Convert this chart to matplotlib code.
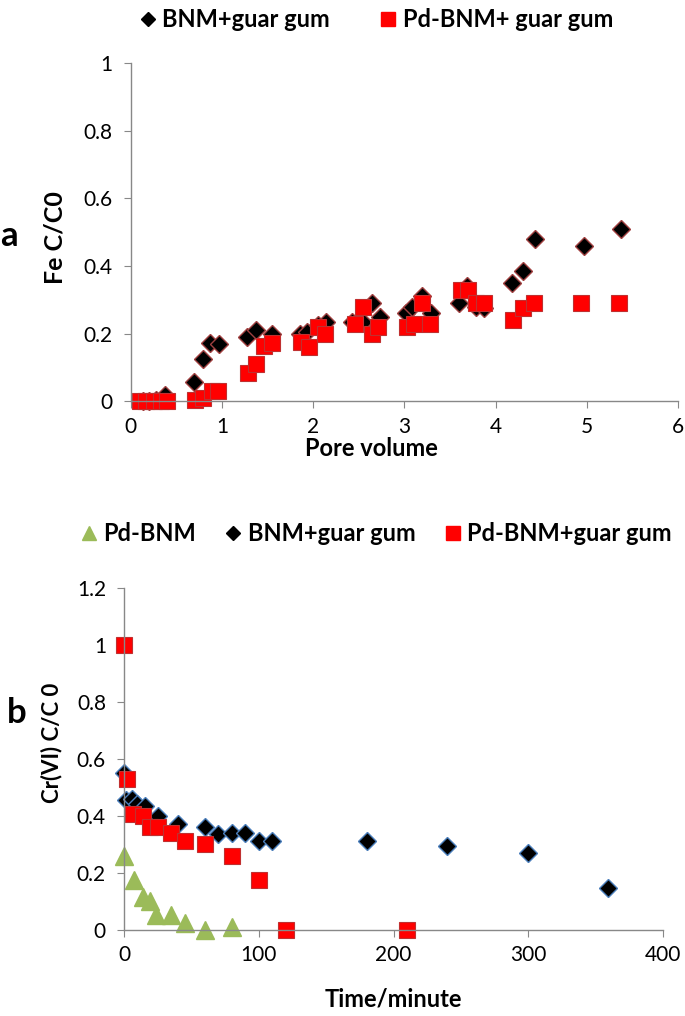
import matplotlib.pyplot as plt
from matplotlib.lines import Line2D

plt.rcParams['font.family'] = ['Lato', 'DejaVu Sans']

# Panel a: Fe breakthrough vs pore volume
pv_bnm = [0.13, 0.2, 0.28, 0.37, 0.69, 0.79, 0.87, 0.97, 1.27, 1.37, 1.55,
          1.85, 1.93, 2.05, 2.14, 2.42, 2.54, 2.64, 2.73, 3.02, 3.08, 3.19,
          3.29, 3.6, 3.68, 3.78, 3.87, 4.18, 4.3, 4.43, 4.97, 5.37]
fe_bnm = [0.0, 0.0, 0.005, 0.02, 0.056, 0.124, 0.172, 0.17, 0.19, 0.21, 0.2,
          0.2, 0.205, 0.225, 0.235, 0.235, 0.235, 0.29, 0.25, 0.26, 0.28, 0.31,
          0.26, 0.29, 0.34, 0.28, 0.275, 0.35, 0.385, 0.48, 0.46, 0.51]
pv_pd = [0.1, 0.17, 0.25, 0.33, 0.4, 0.7, 0.79, 0.89, 0.96, 1.28, 1.37, 1.46,
         1.55, 1.86, 1.95, 2.05, 2.13, 2.46, 2.54, 2.64, 2.71, 3.03, 3.1, 3.19,
         3.28, 3.62, 3.7, 3.78, 3.87, 4.19, 4.3, 4.42, 4.94, 5.35]
fe_pd = [0.0, 0.0, 0.0, 0.0, 0.0, 0.003, 0.01, 0.03, 0.03, 0.083, 0.11, 0.163,
         0.172, 0.175, 0.16, 0.22, 0.2, 0.23, 0.28, 0.2, 0.22, 0.22, 0.23, 0.29,
         0.23, 0.33, 0.33, 0.29, 0.29, 0.24, 0.275, 0.29, 0.29, 0.29]

# Panel b: Cr(VI) vs time
t_pd = [0, 7.5, 14, 19, 24, 35, 45, 60, 80]
cr_pd = [0.26, 0.175, 0.115, 0.1, 0.05, 0.05, 0.025, 0.0, 0.01]
t_bnm = [0, 1.5, 6, 10, 15.5, 25, 40, 60, 70, 80, 90, 100, 110, 180, 240, 300, 359]
cr_bnm = [0.55, 0.456, 0.46, 0.44, 0.435, 0.4, 0.37, 0.36, 0.337, 0.34, 0.34,
          0.31, 0.31, 0.31, 0.295, 0.27, 0.147]
t_pdg = [0, 2, 7, 14, 19, 25, 35, 45, 60, 80, 100, 120, 210]
cr_pdg = [1.0, 0.53, 0.405, 0.4, 0.36, 0.36, 0.34, 0.31, 0.3, 0.26, 0.175, 0.0, 0.0]

red = '#ff0000'
green = '#9bbb59'
grey = '#888888'

fig = plt.figure(figsize=(6.85, 10.16), dpi=100)
ax1 = fig.add_axes([0.191, 0.605, 0.799, 0.333])
ax2 = fig.add_axes([0.181, 0.085, 0.787, 0.336])


def style(ax):
    for s in ['top', 'right']:
        ax.spines[s].set_visible(False)
    for s in ['left', 'bottom']:
        ax.spines[s].set_color(grey)
        ax.spines[s].set_linewidth(1.0)
    ax.tick_params(direction='out', color=grey, length=5, labelsize=15)
    ax.tick_params(axis='x', pad=6)
    ax.tick_params(axis='y', pad=8)
    ax.set_facecolor('none')


ax1.plot(pv_bnm, fe_bnm, 'D', ms=9, mfc='black', mec='#a04040', mew=1, clip_on=False)
ax1.plot(pv_pd, fe_pd, 's', ms=11, mfc=red, mec='#c03030', mew=0.8, clip_on=False)
ax1.set_xlim(0, 6)
ax1.set_ylim(0, 1)
ax1.set_yticks([0, 0.2, 0.4, 0.6, 0.8, 1])
ax1.set_yticklabels(['0', '0.2', '0.4', '0.6', '0.8', '1'])
style(ax1)
ax1.set_xlabel('Pore volume', fontsize=17, fontweight='bold')
ax1.xaxis.set_label_coords(0.44, -0.104)
ax1.set_ylabel('Fe C/C0', fontsize=18, fontweight='bold')
ax1.yaxis.set_label_coords(-0.117, 0.485)

ax2.plot(t_pd, cr_pd, '^', ms=13, mfc=green, mec=green, clip_on=False)
ax2.plot(t_bnm, cr_bnm, 'D', ms=9, mfc='black', mec='#4a7ebb', mew=1, clip_on=False)
ax2.plot(t_pdg, cr_pdg, 's', ms=12, mfc=red, mec='#c03030', mew=0.8, clip_on=False)
ax2.set_xlim(0, 400)
ax2.set_ylim(0, 1.2)
ax2.set_xticks([0, 100, 200, 300, 400])
ax2.set_yticks([0, 0.2, 0.4, 0.6, 0.8, 1, 1.2])
ax2.set_yticklabels(['0', '0.2', '0.4', '0.6', '0.8', '1', '1.2'])
style(ax2)
ax2.set_xlabel('Time/minute', fontsize=17, fontweight='bold')
ax2.xaxis.set_label_coords(0.5, -0.17)
ax2.set_ylabel('Cr(VI) C/C 0', fontsize=16, fontweight='bold')
ax2.yaxis.set_label_coords(-0.115, 0.547)

# legends
h1 = [Line2D([], [], ls='none', marker='D', ms=7, mfc='black', mec='black'),
      Line2D([], [], ls='none', marker='s', ms=10, mfc=red, mec=red)]
fig.legend(h1, ['BNM+guar gum', 'Pd-BNM+ guar gum'], loc='center',
           bbox_to_anchor=(0.55, 0.981), ncol=2, frameon=False,
           prop={'size': 17, 'weight': 'bold'}, handlelength=0.6,
           handletextpad=0.3, columnspacing=2.2)
h2 = [Line2D([], [], ls='none', marker='^', ms=10, mfc=green, mec=green),
      Line2D([], [], ls='none', marker='D', ms=7, mfc='black', mec='black'),
      Line2D([], [], ls='none', marker='s', ms=10, mfc=red, mec=red)]
fig.legend(h2, ['Pd-BNM', 'BNM+guar gum', 'Pd-BNM+guar gum'], loc='center',
           bbox_to_anchor=(0.55, 0.475), ncol=3, frameon=False,
           prop={'size': 17, 'weight': 'bold'}, handlelength=0.6,
           handletextpad=0.3, columnspacing=1.3)

fig.text(0.0, 0.768, 'a', fontsize=25, fontweight='bold', va='center')
fig.text(0.01, 0.298, 'b', fontsize=25, fontweight='bold', va='center')

fig.savefig('out.png', dpi=100)
